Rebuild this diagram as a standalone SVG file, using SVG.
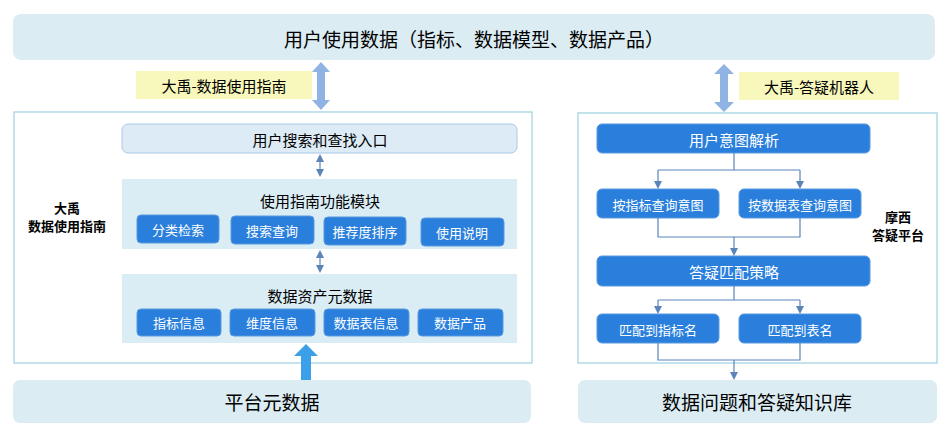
<svg xmlns="http://www.w3.org/2000/svg" width="948" height="432" viewBox="0 0 948 432">
<defs>
<style>
text{font-family:"Noto Sans CJK SC","Liberation Sans",sans-serif;text-anchor:middle;dominant-baseline:central}
.band{fill:#dbecf3}
.btn{fill:#2a7fdc;stroke:#5a9ae0;stroke-width:1}
.wt{fill:#fff}
.outer{fill:#fff;stroke:#9ed0e2;stroke-width:1.2}
.panel{fill:#daecf4}
.yel{fill:#f8f8bc}
.ln{fill:none;stroke:#5b84b8;stroke-width:1.2}
</style>
<marker id="ah" markerWidth="8" markerHeight="8" refX="4" refY="4" orient="auto-start-reverse" markerUnits="userSpaceOnUse"><path d="M0,0L8,4L0,8z" fill="#5b84b8"/></marker>
</defs>
<g id="top"><rect class="band" x="13" y="14" width="922" height="46" rx="8"/><text x="474" y="38" font-size="19">用户使用数据（指标、数据模型、数据产品）</text></g>
<g id="left">
<rect class="outer" x="14" y="112" width="518" height="251"/>
<text x="67" y="207" font-size="13" font-weight="bold">大禹</text>
<text x="67" y="225" font-size="13" font-weight="bold">数据使用指南</text>
</g>
<g id="ylabelL"><rect class="yel" x="136" y="71" width="176" height="28"/><text x="224" y="85" font-size="15">大禹-数据使用指南</text></g>
<g id="entry"><rect x="122" y="124" width="395" height="29" rx="6" fill="#dcebf5" stroke="#a9c9e6"/><text x="320" y="139" font-size="15">用户搜索和查找入口</text></g>
<g id="module"><rect class="panel" x="122" y="179" width="395" height="70"/><text x="320" y="200" font-size="15">使用指南功能模块</text>
<rect class="btn" x="137" y="215" width="82" height="28" rx="4"/><text class="wt" x="178" y="229" font-size="13">分类检索</text>
<rect class="btn" x="231" y="216" width="83" height="28" rx="4"/><text class="wt" x="272" y="230" font-size="13">搜索查询</text>
<rect class="btn" x="324" y="217" width="82" height="28" rx="4"/><text class="wt" x="365" y="231" font-size="13">推荐度排序</text>
<rect class="btn" x="421" y="218" width="83" height="28" rx="4"/><text class="wt" x="462" y="232" font-size="13">使用说明</text>
</g>
<g id="meta"><rect class="panel" x="122" y="274" width="395" height="69"/><text x="320" y="295" font-size="15">数据资产元数据</text>
<rect class="btn" x="137" y="309" width="84" height="27" rx="4"/><text class="wt" x="179" y="322" font-size="13">指标信息</text>
<rect class="btn" x="230" y="309" width="85" height="27" rx="4"/><text class="wt" x="272" y="322" font-size="13">维度信息</text>
<rect class="btn" x="324" y="309" width="85" height="27" rx="4"/><text class="wt" x="366" y="322" font-size="13">数据表信息</text>
<rect class="btn" x="418" y="309" width="85" height="27" rx="4"/><text class="wt" x="460" y="322" font-size="13">数据产品</text>
</g>
<g id="bottomL"><rect class="band" x="13" y="380" width="518" height="43" rx="7"/><text x="272" y="401" font-size="19">平台元数据</text></g>
<g id="right">
<rect class="outer" x="578" y="113" width="359" height="250"/>
<text x="898" y="216" font-size="13" font-weight="bold">摩西</text>
<text x="898" y="234" font-size="13" font-weight="bold">答疑平台</text>
</g>
<g id="ylabelR"><rect class="yel" x="739" y="72" width="160" height="28"/><text x="819" y="86" font-size="15">大禹-答疑机器人</text></g>
<g id="intent"><rect class="btn" x="597" y="124" width="273" height="29" rx="5"/><text class="wt" x="734" y="139" font-size="15">用户意图解析</text></g>
<g id="i1"><rect class="btn" x="597" y="189" width="122" height="29" rx="5"/><text class="wt" x="658" y="204" font-size="13">按指标查询意图</text></g>
<g id="i2"><rect class="btn" x="739" y="189" width="122" height="29" rx="5"/><text class="wt" x="800" y="204" font-size="13">按数据表查询意图</text></g>
<g id="strategy"><rect class="btn" x="597" y="256" width="273" height="30" rx="5"/><text class="wt" x="734" y="271" font-size="15">答疑匹配策略</text></g>
<g id="m1"><rect class="btn" x="597" y="314" width="122" height="29" rx="5"/><text class="wt" x="658" y="329" font-size="13">匹配到指标名</text></g>
<g id="m2"><rect class="btn" x="739" y="314" width="122" height="29" rx="5"/><text class="wt" x="800" y="329" font-size="13">匹配到表名</text></g>
<g id="bottomR"><rect class="band" x="578" y="380" width="359" height="43" rx="7"/><text x="757" y="401" font-size="19">数据问题和答疑知识库</text></g>
<g id="connectors">
<path d="M321,62 L330,72 L325,72 L325,100 L330,100 L321,110 L312,100 L317,100 L317,72 L312,72 Z" fill="#8fb4e3"/>
<path d="M724,64 L734,74 L728,74 L728,102 L734,102 L724,112 L714,102 L720,102 L720,74 L714,74 Z" fill="#8fb4e3"/>
<path d="M306,344 L318,356 L311,356 L311,380 L301,380 L301,356 L294,356 Z" fill="#3ba0e8"/>
<path class="ln" d="M320,158 L320,173" marker-start="url(#ah)" marker-end="url(#ah)"/>
<path class="ln" d="M320,254 L320,269" marker-start="url(#ah)" marker-end="url(#ah)"/>
<path class="ln" d="M734,153 V170 M658,170 H800"/>
<path class="ln" d="M658,170 V185" marker-end="url(#ah)"/>
<path class="ln" d="M800,170 V185" marker-end="url(#ah)"/>
<path class="ln" d="M658,218 V237 H800 V218"/>
<path class="ln" d="M734,237 V252" marker-end="url(#ah)"/>
<path class="ln" d="M734,286 V300 M658,300 H800"/>
<path class="ln" d="M658,300 V310" marker-end="url(#ah)"/>
<path class="ln" d="M800,300 V310" marker-end="url(#ah)"/>
<path class="ln" d="M658,343 V360 H800 V343"/>
<path class="ln" d="M734,360 V376" marker-end="url(#ah)"/>
</g>
</svg>
